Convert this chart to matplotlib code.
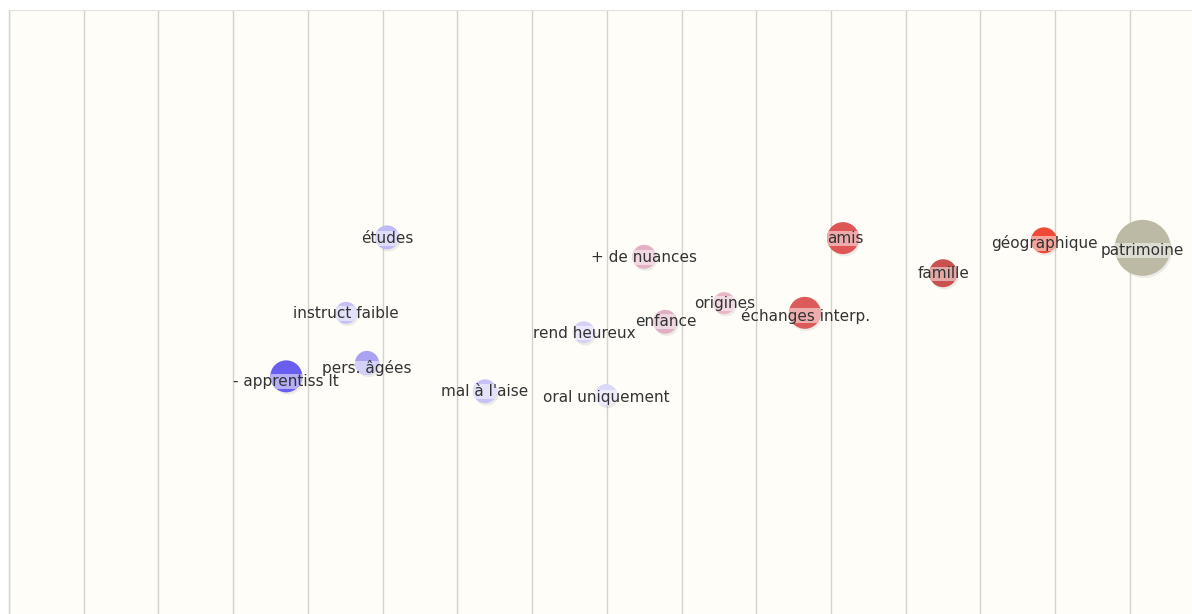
import matplotlib.pyplot as plt
from matplotlib.patches import Circle, Rectangle
from matplotlib.colors import to_rgb

# positions in grid units (one unit = spacing between vertical lines)
labels = [
    "- apprentiss lt", "pers. âgées", "instruct faible", "études",
    "mal à l'aise", "oral uniquement", "rend heureux", "+ de nuances",
    "enfance", "origines", "échanges interp.", "amis", "famille",
    "géographique", "patrimoine",
]
x_vals = [3.71, 4.79, 4.51, 5.06, 6.37, 7.99, 7.69, 8.50,
          8.78, 9.57, 10.65, 11.16, 12.50, 13.85, 15.17]
y_vals = [3.18, 3.36, 4.03, 5.04, 2.98, 2.93, 3.77, 4.78,
          3.91, 4.16, 4.03, 5.03, 4.56, 5.00, 4.90]
sizes = [16, 12, 11, 12, 12, 11, 11, 12, 12, 11, 16, 16, 14, 13, 28]
# label centre offsets (x, y) relative to bubble centre
label_dx = [-0.01, 0.0, 0.0, 0.0, 0.0, 0.0, 0.01, 0.0,
            0.01, 0.01, 0.01, 0.03, 0.0, 0.0, 0.0]
label_dy = [-0.07, -0.07, -0.01, -0.01, 0.0, -0.03, -0.01, -0.01,
            0.01, -0.01, -0.04, -0.01, -0.01, -0.04, -0.03]
colors = [
    "#6a5ef0", "#a9a3f2", "#c5c1f5", "#bfbaf4",
    "#c7c3f6", "#dcd8f8", "#d6d2f6", "#e3b0c6",
    "#dfafc4", "#e8b6c7", "#dc5a5a", "#de5656", "#c9524e",
    "#ef4a37", "#bcbaa4",
]

unit = 74.73  # pixels per grid unit

fig = plt.figure(figsize=(11.92, 6.14), dpi=100)
fig.patch.set_facecolor("white")
ax = fig.add_axes([9 / 1192, 0, 1183 / 1192, 604 / 614])
ax.set_facecolor("#fffdf8")
ax.set_xlim(0, 1183 / unit)
ax.set_ylim(0, 604 / unit)

for gx in range(16):
    ax.axvline(gx, color="#d6d2cc", lw=1.0, zorder=1)

for sp in ["right", "bottom"]:
    ax.spines[sp].set_visible(False)
ax.spines["top"].set_color("#e4e0da")
ax.spines["left"].set_color("#d6d2cc")
ax.spines["left"].set_linewidth(1.0)
ax.set_xticks([])
ax.set_yticks([])


def lighten(c, f):
    r, g, b = to_rgb(c)
    return (r + (1 - r) * f, g + (1 - g) * f, b + (1 - b) * f)


for lab, x, y, s, c, dx, dy in zip(labels, x_vals, y_vals, sizes, colors,
                                   label_dx, label_dy):
    r = s / unit
    shadow = Circle((x + 0.02, y - 0.03), r, color="#000000", alpha=0.07,
                    lw=0, zorder=2)
    ax.add_patch(shadow)
    circ = Circle((x, y), r, color=c, lw=0, zorder=3)
    ax.add_patch(circ)
    band = Rectangle((x - r, y + dy - 0.1), 2 * r, 0.2,
                     color=lighten(c, 0.5), lw=0, zorder=4)
    ax.add_patch(band)
    band.set_clip_path(circ)
    ax.text(x + dx, y + dy, lab, ha="center", va="center", fontsize=11,
            color="#333333", family="DejaVu Sans", zorder=5)

fig.savefig("out.png", dpi=100)
